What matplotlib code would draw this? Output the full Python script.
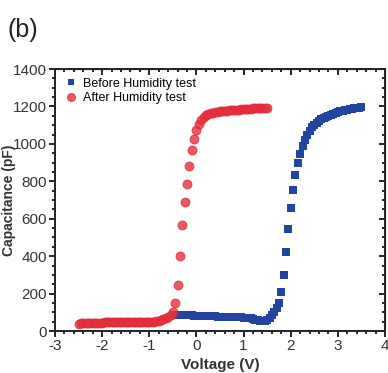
import numpy as np
import matplotlib
matplotlib.use('Agg')
import matplotlib.pyplot as plt
from matplotlib.ticker import MultipleLocator

plt.rcParams['font.family'] = ['Liberation Sans', 'DejaVu Sans']
plt.rcParams['axes.unicode_minus'] = False

# Before humidity test (blue squares)
v_before = [-0.45, -0.40, -0.35, -0.30, -0.25, -0.20, -0.15, -0.10, -0.05, 0.00,
            0.05, 0.10, 0.15, 0.20, 0.25, 0.30, 0.35, 0.40, 0.45, 0.50,
            0.55, 0.60, 0.65, 0.70, 0.75, 0.80, 0.85, 0.90, 0.95, 1.00,
            1.05, 1.10, 1.15, 1.20, 1.25, 1.30, 1.35, 1.40, 1.45, 1.50,
            1.55, 1.60, 1.65, 1.70, 1.75, 1.80, 1.85, 1.90, 1.95, 2.00,
            2.05, 2.10, 2.15, 2.20, 2.25, 2.30, 2.35, 2.40, 2.45, 2.50,
            2.55, 2.60, 2.65, 2.70, 2.75, 2.80, 2.85, 2.90, 2.95, 3.00,
            3.05, 3.10, 3.15, 3.20, 3.25, 3.30, 3.35, 3.40, 3.45, 3.50]
c_before = [86, 86, 85, 85, 84, 84, 83, 83, 82, 82,
            81, 81, 80, 80, 79, 79, 78, 78, 77, 77,
            77, 76, 76, 75, 75, 74, 74, 73, 73, 72,
            71, 69, 67, 64, 60, 57, 53, 52, 54, 60,
            70, 84, 100, 121, 148, 207, 299, 421, 545, 659,
            755, 834, 896, 944, 989, 1021, 1048, 1069, 1090, 1103,
            1114, 1124, 1132, 1139, 1145, 1151, 1156, 1161, 1165, 1169,
            1173, 1176, 1179, 1182, 1185, 1187, 1189, 1191, 1193, 1195]

# After humidity test (red circles)
v_after = [-2.50, -2.45, -2.40, -2.35, -2.30, -2.25, -2.20, -2.15, -2.10, -2.05,
           -2.00, -1.95, -1.90, -1.85, -1.80, -1.75, -1.70, -1.65, -1.60, -1.55,
           -1.50, -1.45, -1.40, -1.35, -1.30, -1.25, -1.20, -1.15, -1.10, -1.05,
           -1.00, -0.95, -0.90, -0.85, -0.80, -0.75, -0.70, -0.65, -0.60, -0.55,
           -0.50, -0.45, -0.40, -0.35, -0.30, -0.25, -0.20, -0.15, -0.10, -0.05,
           0.00, 0.05, 0.10, 0.15, 0.20, 0.25, 0.30, 0.35, 0.40, 0.45,
           0.50, 0.55, 0.60, 0.65, 0.70, 0.75, 0.80, 0.85, 0.90, 0.95,
           1.00, 1.05, 1.10, 1.15, 1.20, 1.25, 1.30, 1.35, 1.40, 1.45, 1.50]
c_after = [40, 41, 41, 42, 42, 43, 43, 44, 44, 45,
           45, 46, 46, 47, 47, 48, 48, 49, 49, 50,
           50, 50, 50, 49, 49, 49, 48, 48, 48, 48,
           48, 49, 50, 51, 53, 57, 62, 68, 75, 85,
           103, 148, 246, 401, 565, 688, 786, 882, 967, 1026,
           1074, 1105, 1128, 1143, 1152, 1158, 1163, 1166, 1169, 1171,
           1173, 1175, 1176, 1178, 1179, 1180, 1181, 1182, 1183, 1184,
           1185, 1186, 1187, 1188, 1189, 1190, 1190, 1191, 1192, 1193, 1194]

fig = plt.figure(figsize=(3.88, 3.73), dpi=100)
ax = fig.add_axes([0.1418, 0.1126, 0.8505, 0.7024])

ax.plot(v_before, c_before, 's', color='#2444a2', markersize=5.2, markeredgewidth=0,
        label='Before Humidity test')
ax.plot(v_after, c_after, 'o', color='#e8303e', markersize=6.4, alpha=0.8,
        markeredgecolor='#e02a38', markeredgewidth=0.7, label='After Humidity test')

ax.set_xlim(-3, 4)
ax.set_ylim(0, 1400)
ax.xaxis.set_major_locator(MultipleLocator(1))
ax.xaxis.set_minor_locator(MultipleLocator(0.2))
ax.yaxis.set_major_locator(MultipleLocator(200))
ax.yaxis.set_minor_locator(MultipleLocator(50))
ax.tick_params(which='both', direction='out', labelsize=11, labelcolor='#333333',
               width=1.2, pad=2)
ax.tick_params(which='major', length=4)
ax.tick_params(which='minor', length=2.5)

for s in ax.spines.values():
    s.set_linewidth(1.4)
    s.set_color('#222222')

# inward ticks on top and right
top = ax.secondary_xaxis('top')
top.xaxis.set_major_locator(MultipleLocator(1))
top.xaxis.set_minor_locator(MultipleLocator(0.2))
top.tick_params(which='both', direction='in', labeltop=False, width=1.2)
top.tick_params(which='major', length=4)
top.tick_params(which='minor', length=2.5)
right = ax.secondary_yaxis('right')
right.yaxis.set_major_locator(MultipleLocator(200))
right.yaxis.set_minor_locator(MultipleLocator(50))
right.tick_params(which='both', direction='in', labelright=False, width=1.2)
right.tick_params(which='major', length=4)
right.tick_params(which='minor', length=2.5)

ax.set_xlabel('Voltage (V)', fontsize=11, fontweight='bold', color='#333333', labelpad=3)
ax.set_ylabel('Capacitance (pF)', fontsize=10, fontweight='bold', color='#333333')
ax.yaxis.set_label_coords(-0.118, 0.5)

ax.legend(loc='upper left', frameon=False, fontsize=9, handletextpad=0.3,
          borderaxespad=0.3, labelspacing=0.2, handlelength=1.2, markerscale=0.9)

fig.text(0.02, 0.9, '(b)', fontsize=18, color='#222222')

fig.savefig('out.png', dpi=100)
